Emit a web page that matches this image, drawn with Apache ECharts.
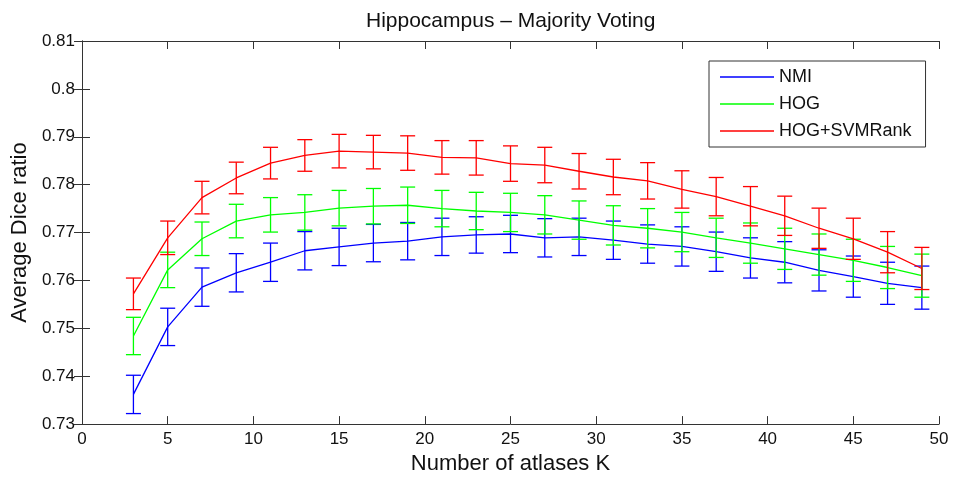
<!DOCTYPE html>
<html><head><meta charset="utf-8">
<script src="https://cdn.jsdelivr.net/npm/echarts@6/dist/echarts.min.js"></script>
<style>html,body{margin:0;padding:0;background:#fff}#c{width:955px;height:480px}</style>
</head><body><div id="c"></div>
<script>
const K = [3,5,7,9,11,13,15,17,19,21,23,25,27,29,31,33,35,37,39,41,43,45,47,49];
const nmiMean = [0.7362,0.7503,0.7586,0.7616,0.7638,0.7662,0.7670,0.7678,0.7682,0.7691,0.7695,0.7697,0.7689,0.7691,0.7684,0.7676,0.7671,0.7660,0.7647,0.7638,0.7621,0.7608,0.7594,0.7585];
const nmiErr  = [0.0040,0.0039,0.0040,0.0040,0.0040,0.0040,0.0039,0.0039,0.0039,0.0039,0.0038,0.0039,0.0040,0.0039,0.0040,0.0040,0.0041,0.0041,0.0042,0.0043,0.0043,0.0043,0.0044,0.0045];
const hogMean = [0.7484,0.7622,0.7687,0.7724,0.7737,0.7742,0.7751,0.7755,0.7757,0.7750,0.7745,0.7742,0.7737,0.7726,0.7715,0.7709,0.7701,0.7689,0.7678,0.7666,0.7654,0.7642,0.7627,0.7610];
const hogErr  = [0.0039,0.0037,0.0035,0.0035,0.0036,0.0037,0.0037,0.0037,0.0038,0.0038,0.0039,0.0040,0.0040,0.0040,0.0041,0.0041,0.0041,0.0041,0.0042,0.0043,0.0043,0.0044,0.0044,0.0045];
const svmMean = [0.7572,0.7689,0.7773,0.7814,0.7845,0.7861,0.7870,0.7868,0.7866,0.7857,0.7856,0.7844,0.7841,0.7828,0.7816,0.7808,0.7790,0.7775,0.7755,0.7735,0.7709,0.7687,0.7659,0.7625];
const svmErr  = [0.0033,0.0035,0.0034,0.0033,0.0033,0.0033,0.0035,0.0035,0.0036,0.0035,0.0036,0.0037,0.0037,0.0037,0.0037,0.0038,0.0039,0.0040,0.0041,0.0041,0.0042,0.0043,0.0043,0.0044];
const seriesNames = ['NMI','HOG','HOG+SVMRank'];
const colors = ['#0000ff','#00ff00','#ff0000'];
const xTicks = {min:0, max:50, interval:5};
const yTicks = {min:0.73, max:0.81, interval:0.01};

const FONT = '"Liberation Sans", Arial, Helvetica, sans-serif';
const means = [nmiMean, hogMean, svmMean];
const errs = [nmiErr, hogErr, svmErr];

function errRender(color){
  return function(params, api){
    const x = api.value(0), lo = api.value(1), hi = api.value(2);
    const a = api.coord([x, lo]), b = api.coord([x, hi]);
    const cw = 7.5;
    const style = {stroke: color, lineWidth: 1.3, fill: null};
    return {type:'group', children:[
      {type:'line', shape:{x1:a[0],y1:a[1],x2:b[0],y2:b[1]}, style: style},
      {type:'line', shape:{x1:a[0]-cw,y1:a[1],x2:a[0]+cw,y2:a[1]}, style: style},
      {type:'line', shape:{x1:b[0]-cw,y1:b[1],x2:b[0]+cw,y2:b[1]}, style: style}
    ]};
  };
}

const series = [];
seriesNames.forEach((nm, s) => {
  series.push({
    name: nm, type:'line', xAxisIndex:0, yAxisIndex:0,
    data: K.map((k,i)=>[k, means[s][i]]),
    symbol:'none', showSymbol:false, lineStyle:{color:colors[s], width:1.3}, itemStyle:{color:colors[s]},
    animation:false, z: 3 + s
  });
  series.push({
    name: nm + ' err', type:'custom', xAxisIndex:0, yAxisIndex:0,
    data: K.map((k,i)=>[k, means[s][i]-errs[s][i], means[s][i]+errs[s][i]]),
    encode:{x:0, y:[1,2]},
    renderItem: errRender(colors[s]),
    animation:false, z: 3 + s
  });
});

const axisLine = {show:true, lineStyle:{color:'#333', width:1}};
const tick = {show:true, inside:true, length:8, lineStyle:{color:'#333', width:1}};
const labelStyle = {color:'#111', fontSize:17, fontFamily:FONT};

const option = {
  backgroundColor:'#fff',
  animation:false,
  title:{text:'Hippocampus \u2013 Majority Voting', left:361, top:6,
    textStyle:{fontSize:21, fontWeight:'normal', color:'#111', fontFamily:FONT}},
  legend:{data:seriesNames, orient:'vertical', left:709, top:61, icon:'rect',
    itemWidth:54, itemHeight:1.5, itemGap:9, padding:[7,14,7,11],
    borderColor:'#333', borderWidth:1, borderRadius:0, backgroundColor:'#fff',
    textStyle:{fontSize:18, color:'#111', fontFamily:FONT, height:18, lineHeight:18}},
  grid:{left:82, right:16, top:41, bottom:52, containLabel:false},
  xAxis:[
    {type:'value', min:xTicks.min, max:xTicks.max, interval:xTicks.interval, position:'bottom',
     name:'Number of atlases K', nameLocation:'middle', nameGap:23,
     nameTextStyle:{fontSize:22, color:'#111', fontFamily:FONT},
     axisLine:axisLine, axisTick:tick, splitLine:{show:false},
     axisLabel:Object.assign({margin:7}, labelStyle)},
    {type:'value', min:xTicks.min, max:xTicks.max, interval:xTicks.interval, position:'top',
     axisLine:axisLine, axisTick:tick, splitLine:{show:false}, axisLabel:{show:false}}
  ],
  yAxis:[
    {type:'value', min:yTicks.min, max:yTicks.max, interval:yTicks.interval, position:'left',
     name:'Average Dice ratio', nameLocation:'middle', nameGap:45,
     nameTextStyle:{fontSize:22, color:'#111', fontFamily:FONT},
     axisLine:axisLine, axisTick:tick, splitLine:{show:false},
     axisLabel:Object.assign({margin:7, formatter: v => String(+v.toFixed(2))}, labelStyle)},
    {type:'value', min:yTicks.min, max:yTicks.max, interval:yTicks.interval, position:'right',
     axisLine:axisLine, axisTick:tick, splitLine:{show:false}, axisLabel:{show:false}}
  ],
  series: series
};
const chart = echarts.init(document.getElementById('c'), null, {renderer:'canvas'});
chart.setOption(option);
</script></body></html>
